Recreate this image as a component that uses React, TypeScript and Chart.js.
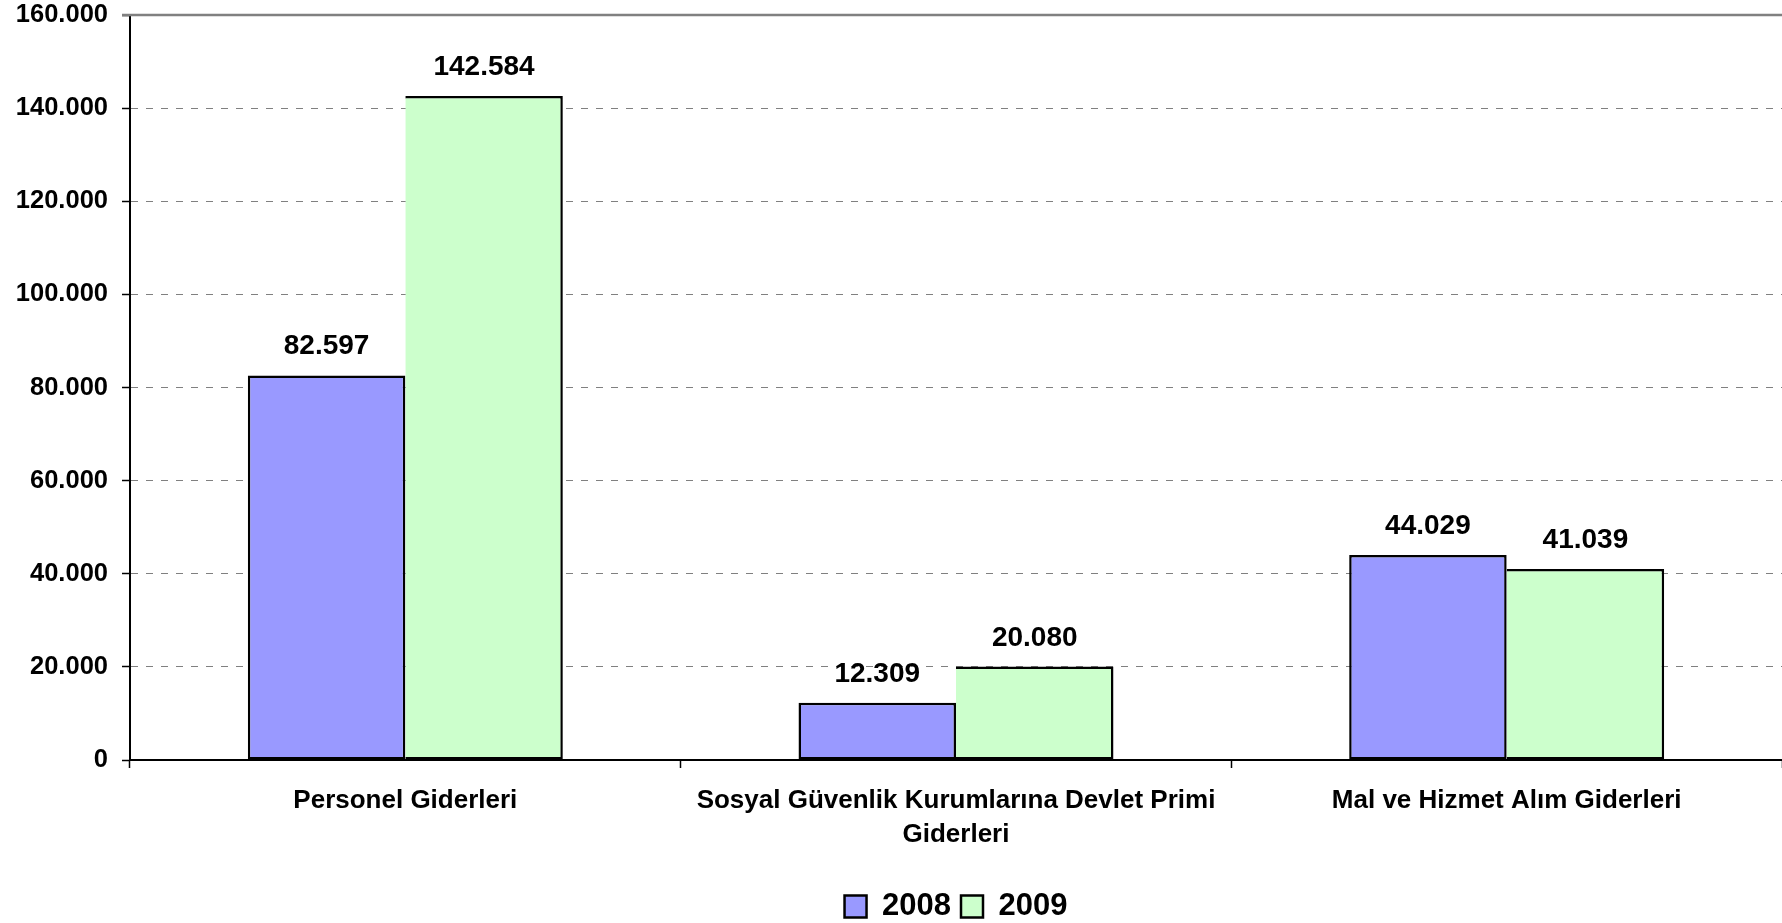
import React, { useEffect, useRef } from "react";
import { Chart, registerables } from "chart.js";

Chart.register(...registerables);

const categories: (string | string[])[] = [
  "Personel Giderleri",
  ["Sosyal Güvenlik Kurumlarına Devlet Primi", "Giderleri"],
  "Mal ve Hizmet Alım Giderleri",
];
const seriesNames = ["2008", "2009"];
const values2008 = [82597, 12309, 44029];
const values2009 = [142584, 20080, 41039];
const yTicks = [0, 20000, 40000, 60000, 80000, 100000, 120000, 140000, 160000];

const FONT = '"Liberation Sans", Arial, sans-serif';

const fmt = (v: number) => String(Math.round(v)).replace(/\B(?=(\d{3})+(?!\d))/g, ".");

const valueLabels = {
  id: "valueLabels",
  afterDatasetsDraw(chart: any) {
    const ctx = chart.ctx;
    ctx.save();
    ctx.font = `bold 28px ${FONT}`;
    ctx.fillStyle = "#000";
    ctx.textAlign = "center";
    ctx.textBaseline = "alphabetic";
    chart.data.datasets.forEach((ds: any, i: number) => {
      const meta = chart.getDatasetMeta(i);
      meta.data.forEach((bar: any, j: number) => {
        ctx.fillText(fmt(ds.data[j]), bar.x, bar.y - 21);
      });
    });
    ctx.restore();
  },
};

const topLine = {
  id: "topLine",
  beforeDatasetsDraw(chart: any) {
    const y = chart.scales.y;
    const ctx = chart.ctx;
    const py = y.getPixelForValue(y.max);
    ctx.save();
    ctx.strokeStyle = "#808080";
    ctx.lineWidth = 2.5;
    ctx.beginPath();
    ctx.moveTo(chart.chartArea.left - 8, py);
    ctx.lineTo(chart.chartArea.right, py);
    ctx.stroke();
    ctx.restore();
  },
};

export default function App() {
  const ref = useRef<HTMLCanvasElement | null>(null);

  useEffect(() => {
    if (!ref.current) return;
    Chart.defaults.font.family = FONT;
    const chart = new Chart(ref.current, {
      type: "bar",
      data: {
        labels: categories as any,
        datasets: [
          {
            label: seriesNames[0],
            data: values2008,
            backgroundColor: "#9999FF",
            borderColor: "#000000",
            borderWidth: 2.5,
            borderSkipped: false,
          },
          {
            label: seriesNames[1],
            data: values2009,
            backgroundColor: "#CCFFCC",
            borderColor: "#000000",
            borderWidth: 2.5,
            borderSkipped: "left",
          },
        ],
      },
      options: {
        responsive: false,
        animation: false,
        devicePixelRatio: 1,
        layout: { padding: { top: 15, left: 0, right: 0, bottom: -9 } },
        datasets: {
          bar: { barPercentage: 1, categoryPercentage: 0.572 },
        },
        plugins: {
          tooltip: { enabled: false },
          legend: {
            position: "bottom",
            fullSize: false,
            labels: {
              boxWidth: 22,
              boxHeight: 22,
              padding: 10,
              color: "#000",
              font: { size: 31, weight: "bold", family: FONT },
            },
          },
        },
        scales: {
          x: {
            afterFit: (s: any) => {
              s.height = 121;
              s.paddingLeft = 0;
              s.paddingRight = 0;
            },
            grid: {
              display: true,
              offset: true,
              drawOnChartArea: false,
              drawTicks: true,
              tickLength: 8,
              tickColor: "#000",
              tickWidth: 1.5,
            },
            border: { display: true, color: "#000", width: 2 },
            ticks: {
              color: "#000",
              padding: 16,
              maxRotation: 0,
              autoSkip: false,
              font: { size: 26, weight: "bold", family: FONT, lineHeight: 1.3 },
            },
          },
          y: {
            min: 0,
            max: 160000,
            afterFit: (s: any) => {
              s.width = 130;
              s.paddingTop = 0;
              s.paddingBottom = 0;
            },
            afterBuildTicks: (s: any) => {
              s.ticks = yTicks.map((v) => ({ value: v }));
            },
            grid: {
              color: "#808080",
              lineWidth: 1,
              tickLength: 8,
              tickColor: "#000",
              tickWidth: 1.5,
            },
            border: { display: true, color: "#000", width: 2, dash: [7, 8] },
            ticks: {
              color: "#000",
              padding: 14,
              font: { size: 25.5, weight: "bold", family: FONT },
              callback: (v: any) => fmt(Number(v)),
            },
          },
        },
      },
      plugins: [valueLabels, topLine],
    });
    return () => chart.destroy();
  }, []);

  return (
    <div style={{ position: "absolute", left: 0, top: 0, width: 1782, height: 923, background: "#fff" }}>
      <canvas ref={ref} width={1782} height={923} style={{ display: "block", width: 1782, height: 923 }} />
    </div>
  );
}
